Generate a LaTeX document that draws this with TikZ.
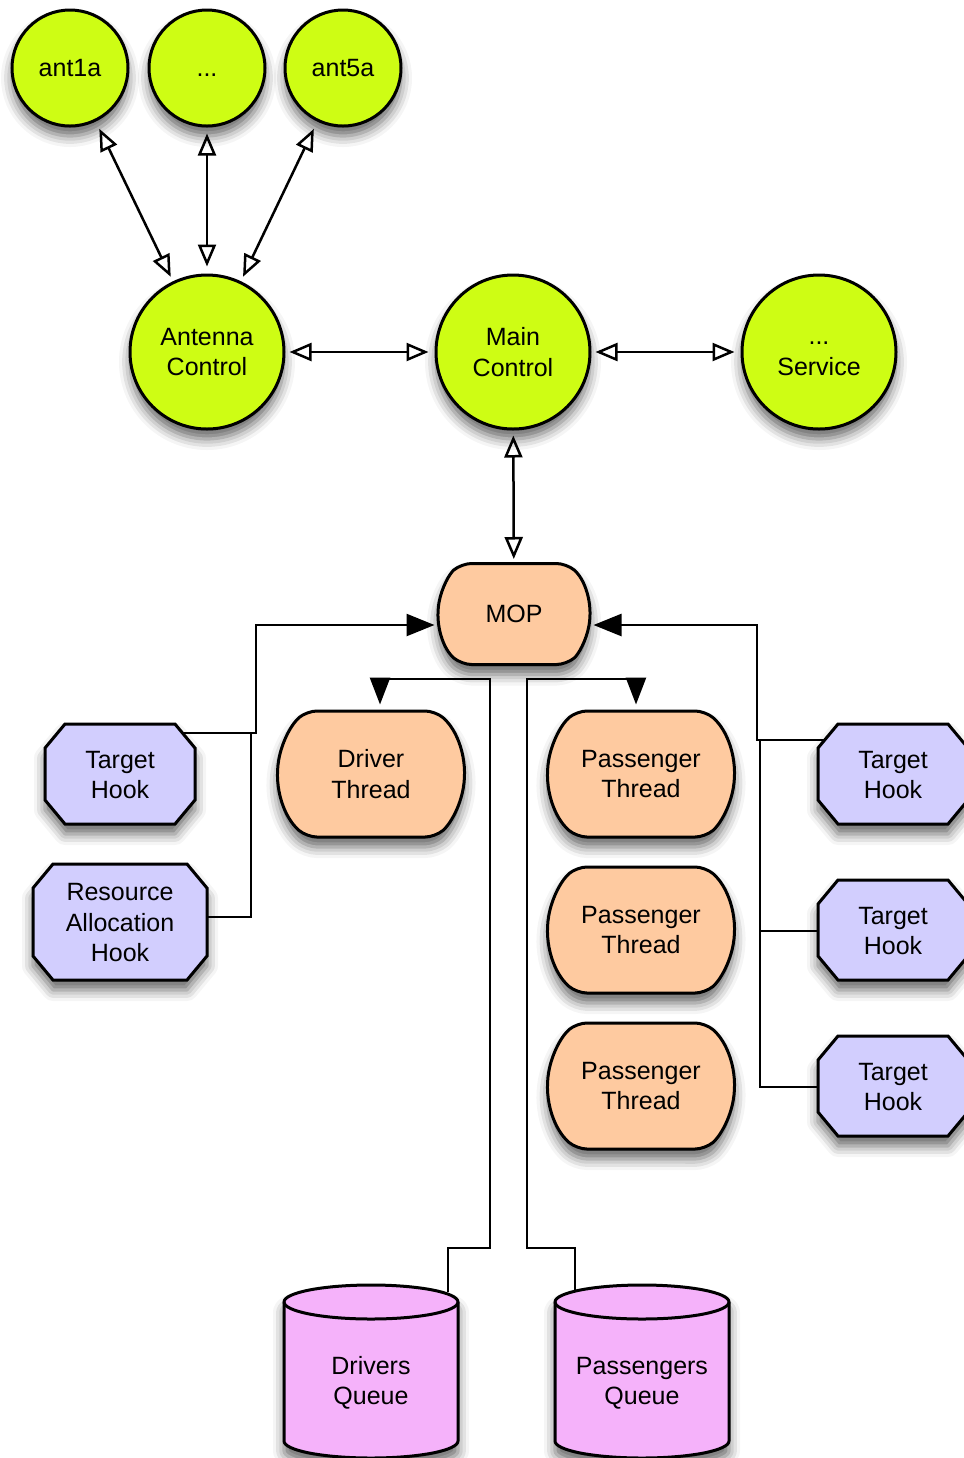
\documentclass[tikz,border=0pt]{standalone}
\usepackage{fontspec}
\setmainfont{Liberation Sans}
\usetikzlibrary{arrows.meta,shapes.misc,shadows.blur,calc}
\definecolor{cgreen}{RGB}{206,253,20}
\definecolor{cpeach}{RGB}{254,202,160}
\definecolor{clav}{RGB}{210,206,254}
\definecolor{cpink}{RGB}{245,178,250}
\newcommand\hooknode[6]{%
  \path[hookdraw] (#2-#4+20,#3-#5) -- (#2+#4-20,#3-#5) -- (#2+#4,#3-#5+24) -- (#2+#4,#3+#5-24)
    -- (#2+#4-20,#3+#5) -- (#2-#4+20,#3+#5) -- (#2-#4,#3+#5-24) -- (#2-#4,#3-#5+24) -- cycle;
  \node[lbl,minimum width=#4pt,minimum height=#5pt] (#1) at (#2,#3+1) {#6};}
\newcommand\cylnode[6]{%
  \path[cyldraw] (#2-87,#4) -- (#2-87,#5) arc[start angle=180,end angle=0,x radius=87,y radius=17]
    -- (#2+87,#4) arc[start angle=0,end angle=-180,x radius=87,y radius=17] -- cycle;
  \draw[line width=1.5pt] (#2-87,#4) arc[start angle=180,end angle=0,x radius=87,y radius=17];
  \node[lbl] (#1) at (#2,#3) {#6};}
\begin{document}
\begin{tikzpicture}[x=0.5pt,y=-0.5pt,
  font=\fontsize{12.5pt}{15.25pt}\selectfont,
  shad/.style={blur shadow={shadow xshift=0pt,shadow yshift=-5pt,shadow blur radius=5.5pt,shadow opacity=60}},
  circ/.style={circle,draw,line width=1.5pt,fill=cgreen,shad,align=center,inner sep=0pt},
  smallc/.style={circ,minimum size=58pt},
  bigc/.style={circ,minimum size=77pt},
  proc/.style={rounded rectangle,rounded rectangle arc length=100,rounded corners=5pt,draw,line width=1.5pt,fill=cpeach,shad,align=center,minimum width=93.5pt,minimum height=63pt,inner sep=0pt},
  hookdraw/.style={draw,line width=1.5pt,fill=clav,shad},
  cyldraw/.style={draw,line width=1.5pt,fill=cpink,shad},
  lbl/.style={align=center,inner sep=0pt},
  conn/.style={line width=1.25pt,draw=black,fill opacity=1,draw opacity=1},
  bi/.style={conn,{Triangle[open,length=11pt,width=9pt]}-{Triangle[open,length=11pt,width=9pt]},shorten <=2.5pt,shorten >=2.5pt},
  fa/.style={conn,-{Triangle[length=14pt,width=11pt,fill=black]}},
  fd/.style={conn,-{Triangle[length=13.5pt,width=10pt,fill=black]}},
]
\useasboundingbox (0,0) rectangle (964,1458);
% circles
\node[smallc] (ant1a) at (70,68) {ant1a};
\node[smallc] (dots) at (207,68) {\vphantom{ant1a}...};
\node[smallc] (ant5a) at (343,68) {ant5a};
\node[bigc] (ac) at (207,352) {Antenna\\Control};
\node[bigc] (mc) at (513,352) {Main\\Control};
\node[bigc] (svc) at (819,352) {};
\node[lbl] (svctext) at (819,359) {...\\Service};
% processes
\node[proc,minimum width=76pt,minimum height=50.5pt] (mop) at (514,614) {MOP};
\node[proc] (dt) at (371,774) {Driver\\Thread};
\node[proc] (pt1) at (641,774) {Passenger\\Thread};
\node[proc] (pt2) at (641,930) {Passenger\\Thread};
\node[proc] (pt3) at (641,1086) {Passenger\\Thread};
% hooks
\hooknode{th1}{120}{774}{75}{50}{Target\\Hook}
\hooknode{ra}{120}{922}{87}{58}{Resource\\Allocation\\Hook}
\hooknode{th2}{893}{774}{75}{50}{Target\\Hook}
\hooknode{th3}{893}{930}{75}{50}{Target\\Hook}
\hooknode{th4}{893}{1086}{75}{50}{Target\\Hook}
% queues
\cylnode{dq}{371}{1383}{1302}{1441}{Drivers\\Queue}
\cylnode{pq}{642}{1383}{1302}{1441}{Passengers\\Queue}
% junctions
\coordinate (jl) at (251,733);
\coordinate (jr) at (760,740);
% connectors
\draw[bi,shorten <=4pt] (ant1a) -- (ac);
\draw[bi,shorten <=3pt,shorten >=3.5pt] (dots) -- (ac);
\draw[bi,shorten <=4pt] (ant5a) -- (ac);
\draw[bi,shorten <=2pt,shorten >=3pt] (ac) -- (mc);
\draw[bi,shorten <=2pt,shorten >=3pt] (mc) -- (svc);
\draw[bi,shorten <=2.5pt,shorten >=1.5pt] (mc) -- (mop);
\draw[fa,shorten >=1pt] ($(th1)+(64,-42)$) -- ++(72,0) |- ($(mop.west)+(0,11)$);
\draw[conn] ($(ra.east)+(0,-6)$) -| (jl);
\draw[fa,shorten >=1pt] ($(th2)+(-69,-35)$) -- ++(-67,0) |- ($(mop.east)+(0,11)$);
\draw[conn] (th3.west) -| (jr);
\draw[conn] (th4.west) -| (jr);
\draw[fd,shorten >=2.5pt] ($(dq)+(77,-91)$) |- ++(42,-44) |- ++(-110,-569) -- ($(dt.north)+(9,0)$);
\draw[fd,shorten >=2.5pt] ($(pq)+(-67,-92)$) |- ++(-48,-43) |- ++(109,-569) -- ($(pt1.north)+(-5,0)$);
\end{tikzpicture}
\end{document}
